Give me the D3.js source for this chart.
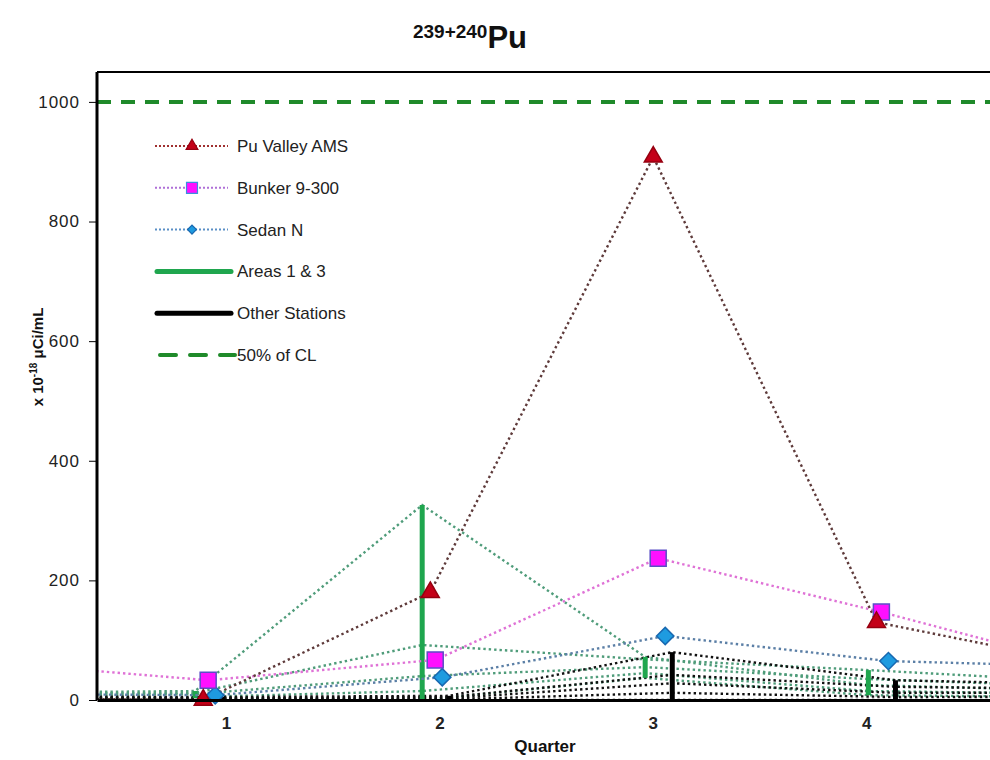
<!DOCTYPE html>
<meta charset="utf-8">
<style>
    body { margin: 0; background: #fff; }
    svg { display: block; font-family: "Liberation Sans", Arial, sans-serif; }
    .axis path, .axis line { stroke: #000; }
    .axis text { fill: #222; }
    .station { fill: none; stroke-width: 2.4; stroke-dasharray: 2.4, 3; }
</style>
<svg width="990" height="760"></svg>
<script src="https://cdn.jsdelivr.net/npm/d3@7"></script>
<script>
    // quarter positions of the sampling (q0 = previous year Q4, q5 = next year Q1, both clipped)
    var quarterX = [-0.2, 0.855, 1.919, 2.964, 4.01, 5.06];
    var tickValues = [1, 2, 3, 4];
    var tickLabels = ["1", "2", "3", "4"];
    var yTicks = [0, 200, 400, 600, 800, 1000];
    var limit50 = 1000;

    var puValley = [3, 0, 180, 908, 130, 55];
    var bunker = [64, 33, 67, 237, 147, 48];
    var sedanN = [10, 8, 38, 107, 65, 55];

    // Areas 1 & 3 stations
    var areaStations = [
        [12, 15, 326, 72, 25, 15],
        [10, 12, 92, 68, 50, 30],
        [8, 10, 40, 55, 35, 22],
        [6, 5, 15, 45, 15, 10],
        [4, 3, 0, 37, 8, 5]
    ];
    // other stations
    var otherStations = [
        [6, 5, 7, 80, 33, 25],
        [4, 3, 5, 42, 22, 18],
        [3, 2, 3, 28, 12, 12],
        [1, 1, 1, 12, 5, 6],
        [0, 0, 0, 0, 0, 0]
    ];

    var legendLabels = ["Pu Valley AMS", "Bunker 9-300", "Sedan N", "Areas 1 & 3", "Other Stations", "50% of CL"];

    var svg = d3.select("svg"),
        margin = { top: 72, left: 97, bottom: 60 },
        width = 990 - margin.left,
        height = +svg.attr("height") - margin.top - margin.bottom;

    var x = d3.scaleLinear().domain([0.395, 4.58]).range([0, width]),
        y = d3.scaleLinear().domain([0, 1050]).range([height, 0]);

    // horizontal offsets of each group within a quarter
    var off = { area: 0, pu: 0.038, bunker: 0.061, sedan: 0.094, other: 0.127 };

    var line = function (dx) {
        return d3.line()
            .x(function (d, i) { return x(quarterX[i] + dx); })
            .y(function (d) { return y(d); });
    };

    svg.append("defs").append("clipPath")
        .attr("id", "clip")
        .append("rect")
        .attr("x", 0).attr("y", -2)
        .attr("width", width)
        .attr("height", height + 10);

    var g = svg.append("g")
        .attr("transform", "translate(" + margin.left + "," + margin.top + ")");

    var plot = g.append("g").attr("clip-path", "url(#clip)");

    // 50% of CL
    plot.append("line")
        .attr("x1", 0).attr("x2", width)
        .attr("y1", y(limit50)).attr("y2", y(limit50))
        .attr("stroke", "#1f8a2a")
        .attr("stroke-width", 4)
        .attr("stroke-dasharray", "14,10");

    // station dotted lines
    plot.selectAll(".area-line")
        .data(areaStations)
        .enter().append("path")
        .attr("class", "station")
        .attr("stroke", "#4f9c7a")
        .attr("d", line(off.area));

    plot.selectAll(".other-line")
        .data(otherStations)
        .enter().append("path")
        .attr("class", "station")
        .attr("stroke", "#111")
        .attr("d", line(off.other));

    // range bars per quarter from station values
    var ranges = function (stations) {
        return quarterX.map(function (q, i) {
            var e = d3.extent(stations, function (s) { return s[i]; });
            return { q: q, lo: e[0], hi: e[1] };
        });
    };

    plot.selectAll(".area-bar")
        .data(ranges(areaStations))
        .enter().append("line")
        .attr("x1", function (d) { return x(d.q + off.area); })
        .attr("x2", function (d) { return x(d.q + off.area); })
        .attr("y1", function (d) { return y(d.lo); })
        .attr("y2", function (d) { return y(d.hi); })
        .attr("stroke", "#1fa64e")
        .attr("stroke-width", 5);

    plot.selectAll(".other-bar")
        .data(ranges(otherStations))
        .enter().append("line")
        .attr("x1", function (d) { return x(d.q + off.other); })
        .attr("x2", function (d) { return x(d.q + off.other); })
        .attr("y1", function (d) { return y(d.lo); })
        .attr("y2", function (d) { return y(d.hi); })
        .attr("stroke", "#000")
        .attr("stroke-width", 5);

    // main series
    var series = [
        { name: "Sedan N", values: sedanN, dx: off.sedan, color: "#5b7fa6", symbol: d3.symbolSquare, size: 150, rot: 45, fill: "#1e9be0", stroke: "#1868b0" },
        { name: "Bunker 9-300", values: bunker, dx: off.bunker, color: "#df72d6", symbol: d3.symbolSquare, size: 256, rot: 0, fill: "#ff10ff", stroke: "#5a4ec6" },
        { name: "Pu Valley AMS", values: puValley, dx: off.pu, color: "#5e3a3a", symbol: d3.symbolTriangle, size: 140, rot: 0, fill: "#c40018", stroke: "#960010" }
    ];

    series.forEach(function (s) {
        plot.append("path")
            .datum(s.values)
            .attr("class", "station")
            .attr("stroke", s.color)
            .attr("d", line(s.dx));
    });

    series.forEach(function (s) {
        plot.selectAll(null)
            .data(s.values)
            .enter().append("path")
            .attr("transform", function (d, i) {
                return "translate(" + x(quarterX[i] + s.dx) + "," + y(d) + ") rotate(" + s.rot + ")";
            })
            .attr("d", d3.symbol().type(s.symbol).size(s.size))
            .attr("fill", s.fill)
            .attr("stroke", s.stroke)
            .attr("stroke-width", 1.5);
    });

    // frame top
    g.append("line")
        .attr("x1", 0).attr("x2", width)
        .attr("y1", 0).attr("y2", 0)
        .attr("stroke", "#000").attr("stroke-width", 2);

    // axes
    var yAxis = d3.axisLeft(y).tickValues(yTicks).tickFormat(d3.format("d"))
        .tickSize(8).tickPadding(9);
    var yg = g.append("g").attr("class", "axis").call(yAxis);
    yg.select(".domain").attr("stroke-width", 3).attr("d", "M0," + height + "V0");
    yg.selectAll("line").attr("stroke-width", 1);
    yg.selectAll("text").attr("font-size", 17).attr("letter-spacing", 1)
        .attr("font-family", '"Liberation Sans", Arial, sans-serif');

    var xAxis = d3.axisBottom(x).tickValues(tickValues)
        .tickFormat(function (d, i) { return tickLabels[i]; })
        .tickSize(0).tickPadding(17);
    var xg = g.append("g").attr("class", "axis")
        .attr("transform", "translate(0," + height + ")")
        .call(xAxis);
    xg.select(".domain").attr("stroke-width", 3);
    xg.selectAll("text").attr("font-size", 17).attr("font-weight", "bold")
        .attr("font-family", '"Liberation Sans", Arial, sans-serif');

    // axis titles
    svg.append("text")
        .attr("x", 545).attr("y", 752)
        .attr("text-anchor", "middle")
        .attr("font-size", 17).attr("font-weight", "bold")
        .attr("fill", "#111")
        .text("Quarter");

    var yt = svg.append("text")
        .attr("transform", "translate(43,357) rotate(-90)")
        .attr("text-anchor", "middle")
        .attr("font-size", 15).attr("font-weight", "bold")
        .attr("fill", "#111");
    yt.append("tspan").text("x 10");
    yt.append("tspan").attr("font-size", 10).attr("dy", -6).text("-18");
    yt.append("tspan").attr("dy", 6).text(" \u03bcCi/mL");

    // title
    var title = svg.append("text")
        .attr("x", 470).attr("y", 48)
        .attr("text-anchor", "middle")
        .attr("font-weight", "bold")
        .attr("fill", "#111");
    title.append("tspan").attr("font-size", 19).attr("dy", -10).text("239+240");
    title.append("tspan").attr("font-size", 31).attr("dy", 10).text("Pu");

    // legend
    var legend = svg.append("g").attr("transform", "translate(155,146)");
    var rowH = 41.8;
    var legendStyles = [
        { color: "#a03030", symbol: d3.symbolTriangle, size: 60, rot: 0, fill: "#c40018", stroke: "#960010" },
        { color: "#b070d8", symbol: d3.symbolSquare, size: 120, rot: 0, fill: "#ff10ff", stroke: "#3a8ee0" },
        { color: "#5b8fc6", symbol: d3.symbolSquare, size: 40, rot: 45, fill: "#1e9be0", stroke: "#1868b0" },
        { color: "#1fa64e", width: 5 },
        { color: "#000", width: 5 },
        { color: "#1f8a2a", width: 4, dash: "16,14" }
    ];

    legendLabels.forEach(function (label, i) {
        var st = legendStyles[i],
            row = legend.append("g").attr("transform", "translate(0," + (i * rowH) + ")");
        if (st.symbol) {
            row.append("line")
                .attr("x1", 0).attr("x2", 73)
                .attr("stroke", st.color).attr("stroke-width", 2)
                .attr("stroke-dasharray", "2,2");
            row.append("path")
                .attr("transform", "translate(37,0) rotate(" + st.rot + ")")
                .attr("d", d3.symbol().type(st.symbol).size(st.size))
                .attr("fill", st.fill).attr("stroke", st.stroke).attr("stroke-width", 1.2);
        } else {
            row.append("line")
                .attr("x1", st.dash ? 5 : 2).attr("x2", st.dash ? 80 : 76)
                .attr("stroke", st.color).attr("stroke-width", st.width)
                .attr("stroke-linecap", "round")
                .attr("stroke-dasharray", st.dash || null);
        }
        row.append("text")
            .attr("x", 82).attr("y", 0).attr("dy", "0.35em")
            .attr("font-size", 17).attr("fill", "#222")
            .text(label);
    });
</script>
